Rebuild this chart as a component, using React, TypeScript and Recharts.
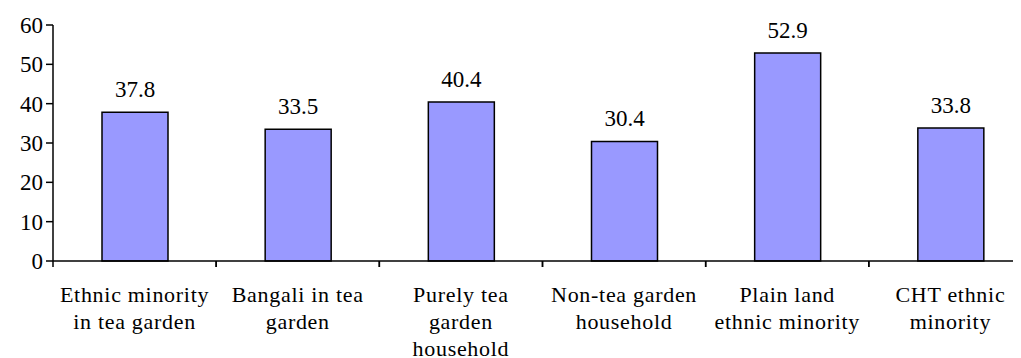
import { BarChart, Bar, XAxis, YAxis, LabelList } from "recharts";

const categories = [
  "Ethnic minority|in tea garden",
  "Bangali in tea|garden",
  "Purely tea|garden|household",
  "Non-tea garden|household",
  "Plain land|ethnic minority",
  "CHT ethnic|minority",
];
const values = [37.8, 33.5, 40.4, 30.4, 52.9, 33.8];
const yTicks = [0, 10, 20, 30, 40, 50, 60];

const data = categories.map((name, i) => ({ name, value: values[i] }));

const CHART_W = 1050;
const CHART_H = 350;
const Y_W = 45;
const RIGHT = 26;
const FONT = '"Times New Roman", "Liberation Serif", "DejaVu Serif", serif';
const HALF_BAND = (CHART_W - Y_W - RIGHT) / categories.length / 2;

function CategoryTick(props: any) {
  const { x, y, payload } = props;
  const lines = String(payload.value).split("|");
  return (
    <g>
      <line x1={x - HALF_BAND} y1={y - 8} x2={x - HALF_BAND} y2={y - 2} stroke="#000" strokeWidth={1.5} />
      <line x1={x + HALF_BAND} y1={y - 8} x2={x + HALF_BAND} y2={y - 2} stroke="#000" strokeWidth={1.5} />
      <text
        x={x}
        y={y + 33}
        textAnchor="middle"
        fill="#000"
        fontFamily={FONT}
        fontSize={22}
        letterSpacing={0.7}
      >
        {lines.map((l, i) => (
          <tspan key={i} x={x} dy={i === 0 ? 0 : 27}>
            {l}
          </tspan>
        ))}
      </text>
    </g>
  );
}

export default function App() {
  return (
    <div style={{ width: 1013, height: 350, overflow: "hidden", fontFamily: FONT }}>
      <BarChart
        width={CHART_W}
        height={CHART_H}
        data={data}
        margin={{ top: 17, right: RIGHT, bottom: 0, left: 0 }}
      >
        <YAxis
          width={Y_W}
          domain={[0, 60]}
          ticks={yTicks}
          interval={0}
          tickSize={7}
          tickMargin={3}
          axisLine={{ stroke: "#000", strokeWidth: 1.5 }}
          tickLine={{ stroke: "#000", strokeWidth: 1.5 }}
          tick={{ fill: "#000", fontSize: 23, fontFamily: FONT }}
        />
        <XAxis
          dataKey="name"
          height={97}
          interval={0}
          tickLine={false}
          axisLine={{ stroke: "#000", strokeWidth: 1.5 }}
          tick={<CategoryTick />}
        />
        <Bar
          dataKey="value"
          fill="#9999FF"
          stroke="#000"
          strokeWidth={1.5}
          barSize={66}
          isAnimationActive={false}
        >
          <LabelList
            dataKey="value"
            position="top"
            offset={15}
            fill="#000"
            fontSize={23}
            fontFamily={FONT}
            formatter={(v: any) => Number(v).toFixed(1)}
          />
        </Bar>
      </BarChart>
    </div>
  );
}
